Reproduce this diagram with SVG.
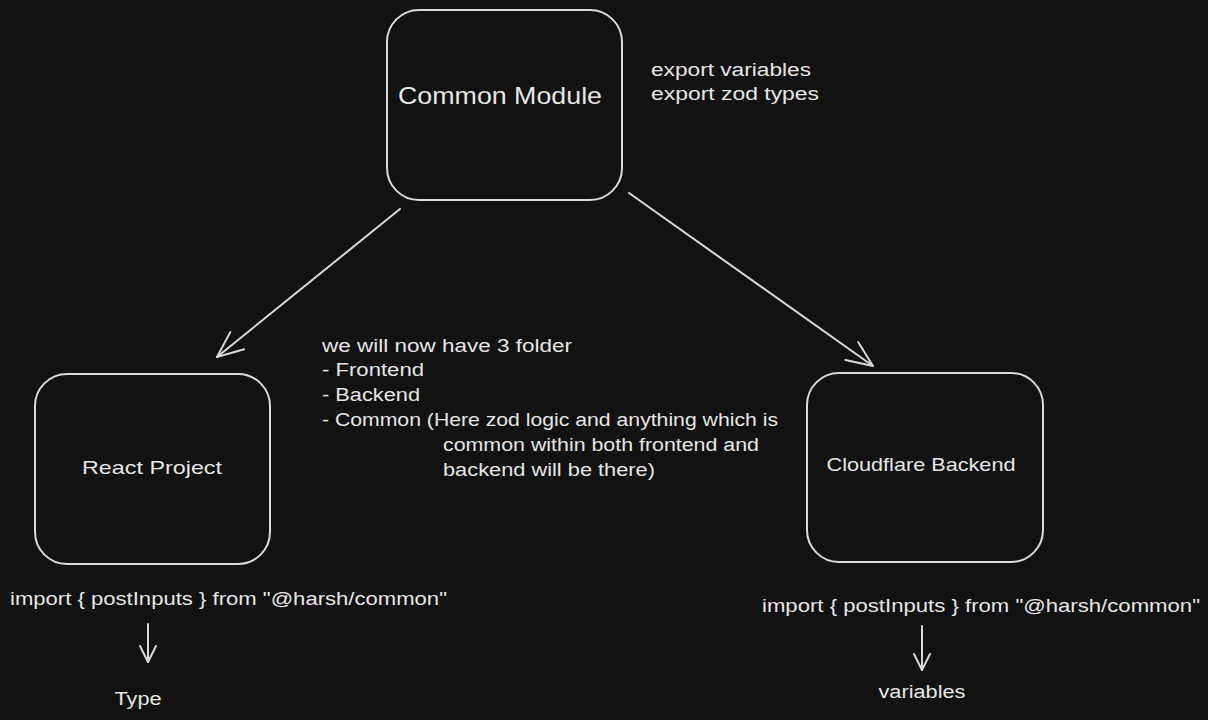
<svg xmlns="http://www.w3.org/2000/svg" width="1208" height="720" viewBox="0 0 1208 720">
<defs>
<marker id="ah" viewBox="0 0 20 20" refX="18" refY="10" markerWidth="20" markerHeight="20" markerUnits="userSpaceOnUse" orient="auto">
<path d="M2 2 L18 10 L2 18" fill="none" stroke="#d9d9d9" stroke-width="2" stroke-linecap="round" stroke-linejoin="round"/>
</marker>
<marker id="ah2" viewBox="0 0 30 30" refX="28" refY="15" markerWidth="30" markerHeight="30" markerUnits="userSpaceOnUse" orient="auto">
<path d="M2 4 L28 15 L2 26" fill="none" stroke="#d9d9d9" stroke-width="2" stroke-linecap="round" stroke-linejoin="round"/>
</marker>
</defs>
<style>
.box{fill:none;stroke:#d9d9d9;stroke-width:2}
.t{fill:#e6e6e6;font-family:"Liberation Sans","DejaVu Sans",sans-serif}
.c{stroke:#d9d9d9;stroke-width:2;fill:none;stroke-linecap:round}
</style>
<rect width="1208" height="720" fill="#121212"/>
<g id="common-module">
<rect class="box" x="387" y="10" width="235" height="190" rx="32"/>
<text class="t" x="500" y="104" font-size="24" text-anchor="middle" textLength="204" lengthAdjust="spacingAndGlyphs">Common Module</text>
</g>
<g id="export-note">
<text class="t" x="651" y="76" font-size="18" textLength="160" lengthAdjust="spacingAndGlyphs">export variables</text>
<text class="t" x="651" y="100" font-size="18" textLength="168" lengthAdjust="spacingAndGlyphs">export zod types</text>
</g>
<g id="react-project">
<rect class="box" x="35" y="374" width="235" height="190" rx="32"/>
<text class="t" x="152" y="474" font-size="19" text-anchor="middle" textLength="140" lengthAdjust="spacingAndGlyphs">React Project</text>
</g>
<g id="cloudflare-backend">
<rect class="box" x="807" y="373" width="236" height="189" rx="32"/>
<text class="t" x="921" y="471" font-size="19" text-anchor="middle" textLength="189" lengthAdjust="spacingAndGlyphs">Cloudflare Backend</text>
</g>
<g id="folder-note">
<text class="t" x="322" y="352" font-size="18" textLength="250" lengthAdjust="spacingAndGlyphs">we will now have 3 folder</text>
<text class="t" x="322" y="376" font-size="18" textLength="102" lengthAdjust="spacingAndGlyphs">- Frontend</text>
<text class="t" x="322" y="401" font-size="18" textLength="98" lengthAdjust="spacingAndGlyphs">- Backend</text>
<text class="t" x="322" y="426" font-size="18" textLength="456" lengthAdjust="spacingAndGlyphs">- Common (Here zod logic and anything which is</text>
<text class="t" x="443" y="451" font-size="18" textLength="316" lengthAdjust="spacingAndGlyphs">common within both frontend and</text>
<text class="t" x="443" y="476" font-size="18" textLength="212" lengthAdjust="spacingAndGlyphs">backend will be there)</text>
</g>
<g id="react-import">
<text class="t" x="10" y="605" font-size="18" textLength="437" lengthAdjust="spacingAndGlyphs">import { postInputs } from "@harsh/common"</text>
</g>
<g id="type-label">
<text class="t" x="138" y="705" font-size="18" text-anchor="middle" textLength="47" lengthAdjust="spacingAndGlyphs">Type</text>
</g>
<g id="backend-import">
<text class="t" x="762" y="612" font-size="18" textLength="438" lengthAdjust="spacingAndGlyphs">import { postInputs } from "@harsh/common"</text>
</g>
<g id="variables-label">
<text class="t" x="922" y="698" font-size="18" text-anchor="middle" textLength="87" lengthAdjust="spacingAndGlyphs">variables</text>
</g>
<g id="connectors">
<path class="c" d="M400 209 L217 357" marker-end="url(#ah2)"/>
<path class="c" d="M629 193 L873 366" marker-end="url(#ah2)"/>
<path class="c" d="M148 624 L148 662" marker-end="url(#ah)"/>
<path class="c" d="M922 626 L922 670" marker-end="url(#ah)"/>
</g>
</svg>
